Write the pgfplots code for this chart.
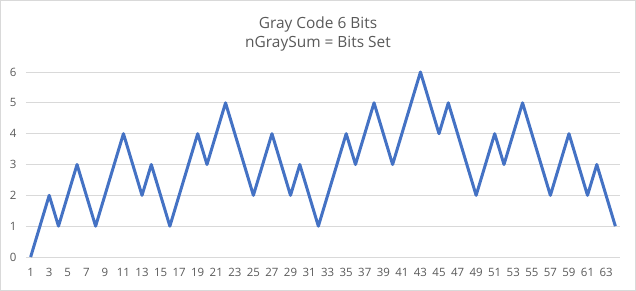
\documentclass[border=0pt]{standalone}
\usepackage{pgfplots}
\pgfplotsset{compat=1.18}
\usepackage{fontspec}
\setmainfont{Open Sans}
\definecolor{line}{HTML}{4472C4}
\definecolor{gridc}{HTML}{D9D9D9}
\definecolor{txt}{HTML}{595959}
\begin{document}
\begin{tikzpicture}
\useasboundingbox (0,0) rectangle (636bp,291bp);
\draw[color=gridc, line width=0.8bp] (0.5bp,0.5bp) rectangle (635.5bp,290.5bp);
\node[font=\fontsize{15.5}{18}\selectfont, text=txt, anchor=base] at (318bp,262bp) {Gray Code 6 Bits};
\node[font=\fontsize{15.5}{18}\selectfont, text=txt, anchor=base] at (318bp,243bp) {nGraySum = Bits Set};
\begin{axis}[
  at={(26bp,34bp)}, anchor=south west,
  scale only axis, width=594bp, height=185bp,
  xmin=0.5, xmax=64.5, ymin=0, ymax=6,
  xtick={1,3,...,63}, ytick={0,1,...,6},
  axis line style={draw=none},
  major tick length=0pt,
  ymajorgrids, grid style={color=gridc, line width=0.8bp},
  tick label style={font=\fontsize{11.5}{12}\selectfont, text=txt},
  /pgf/number format/assume math mode=true,
  yticklabel style={xshift=-6bp},
  xticklabel style={anchor=base, yshift=-19bp},
  clip=false,
]
\addplot[color=line, line width=3bp, line join=round] coordinates {
(1,0)(2,1)(3,2)(4,1)(5,2)(6,3)(7,2)(8,1)
(9,2)(10,3)(11,4)(12,3)(13,2)(14,3)(15,2)(16,1)
(17,2)(18,3)(19,4)(20,3)(21,4)(22,5)(23,4)(24,3)
(25,2)(26,3)(27,4)(28,3)(29,2)(30,3)(31,2)(32,1)
(33,2)(34,3)(35,4)(36,3)(37,4)(38,5)(39,4)(40,3)
(41,4)(42,5)(43,6)(44,5)(45,4)(46,5)(47,4)(48,3)
(49,2)(50,3)(51,4)(52,3)(53,4)(54,5)(55,4)(56,3)
(57,2)(58,3)(59,4)(60,3)(61,2)(62,3)(63,2)(64,1)
};
\end{axis}
\end{tikzpicture}
\end{document}
